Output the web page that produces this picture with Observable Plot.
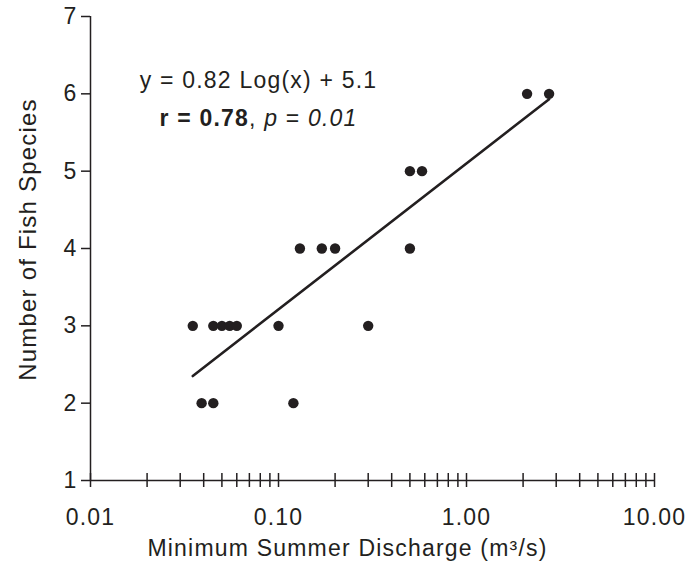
<!DOCTYPE html>
<html><head><meta charset="utf-8">
<script src="https://cdn.jsdelivr.net/npm/d3@7"></script>
<script src="https://cdn.jsdelivr.net/npm/@observablehq/plot@0.6"></script>
<style>
body{margin:0;background:#fff;}
#chart{width:700px;height:577px;}
</style></head><body><div id="chart"></div>
<script>
// Data
const discharge = [0.035, 0.039, 0.045, 0.045, 0.05, 0.055, 0.06, 0.1, 0.12, 0.13, 0.17, 0.2, 0.3, 0.5, 0.5, 0.58, 2.1, 2.75];
const species   = [3,     2,     2,     3,     3,    3,     3,    3,   2,    4,    4,    4,   3,   4,   5,   5,    6,   6];
// Fit reported on the chart: y = 0.82 Log(x) + 5.1  (natural log), r = 0.78, p = 0.01
const fitSlope = 0.82, fitIntercept = 5.1, rValue = 0.78, pValue = 0.01;
const xMajorTicks = [0.01, 0.1, 1, 10];
const xTickLabels = ["0.01", "0.10", "1.00", "10.00"];
const yTicks = [1, 2, 3, 4, 5, 6, 7];
const xTitle = "Minimum Summer Discharge (m³/s)";
const yTitle = "Number of Fish Species";
const statsPlaceholder = "§stats§";

const points = discharge.map((x, i) => ({x, y: species[i]}));
const xMinorTicks = xMajorTicks.slice(0, -1).flatMap(d => [2,3,4,5,6,7,8,9].map(k => +(d * k).toPrecision(3)));
const allXTicks = [...xMajorTicks, ...xMinorTicks];
const xExt = d3.extent(discharge);
const fitLine = xExt.map(x => ({x, y: fitSlope * Math.log(x) + fitIntercept}));
const ink = "#231f20";

const chart = Plot.plot({
  width: 700, height: 577,
  marginLeft: 90, marginRight: 46, marginTop: 16, marginBottom: 97,
  style: {fontFamily: "'Liberation Sans', Arial, sans-serif", fontSize: "23px", color: ink, background: "#fff", letterSpacing: "1.2px"},
  x: {type: "log", domain: [0.01, 10]},
  y: {domain: [1, 7]},
  marks: [
    Plot.ruleY([1], {stroke: ink, strokeWidth: 1.5}),
    Plot.ruleX([0.01], {stroke: ink, strokeWidth: 1.5}),
    Plot.axisY({ticks: yTicks, tickSize: 9, tickPadding: 4, tickFormat: d => String(d), label: null, strokeWidth: 1.5}),
    Plot.axisX({ticks: allXTicks, tickSize: 14, dy: -7, fill: "none", label: null, strokeWidth: 1.5}),
    Plot.axisX({ticks: xMajorTicks, tickSize: 0, tickPadding: 28, tickFormat: d => xTickLabels[xMajorTicks.indexOf(d)], label: null}),
    Plot.line(fitLine, {x: "x", y: "y", stroke: ink, strokeWidth: 2.6}),
    Plot.dot(points, {x: "x", y: "y", r: 5.2, fill: ink, stroke: "none"}),
    Plot.text([yTitle], {frameAnchor: "left", textAnchor: "middle", lineAnchor: "middle", rotate: -90, dx: -62, dy: -9, fill: ink, fontSize: 24, style: "letter-spacing:1.5px"}),
    Plot.text([xTitle], {frameAnchor: "bottom", textAnchor: "middle", dy: 68, dx: -25, lineAnchor: "middle", fill: ink}),
    Plot.text([`y = ${fitSlope.toFixed(2)} Log(x) + ${fitIntercept.toFixed(1)}`], {frameAnchor: "top-left", dx: 168, dy: 64, textAnchor: "middle", lineAnchor: "middle", fill: ink}),
    Plot.text([statsPlaceholder], {frameAnchor: "top-left", dx: 168, dy: 102, textAnchor: "middle", lineAnchor: "middle", fill: ink})
  ]
});
document.getElementById("chart").appendChild(chart);

// rich formatting of the statistics line
d3.select(chart).selectAll("text").filter(function() { return this.textContent === statsPlaceholder; }).each(function() {
  const t = d3.select(this);
  t.text(null);
  t.append("tspan").attr("font-weight", "bold").text(`r = ${rValue.toFixed(2)}`);
  t.append("tspan").text(", ");
  t.append("tspan").attr("font-style", "italic").text("p");
  t.append("tspan").text(" = ");
  t.append("tspan").attr("font-style", "italic").text(pValue.toFixed(2));
});
</script></body></html>
